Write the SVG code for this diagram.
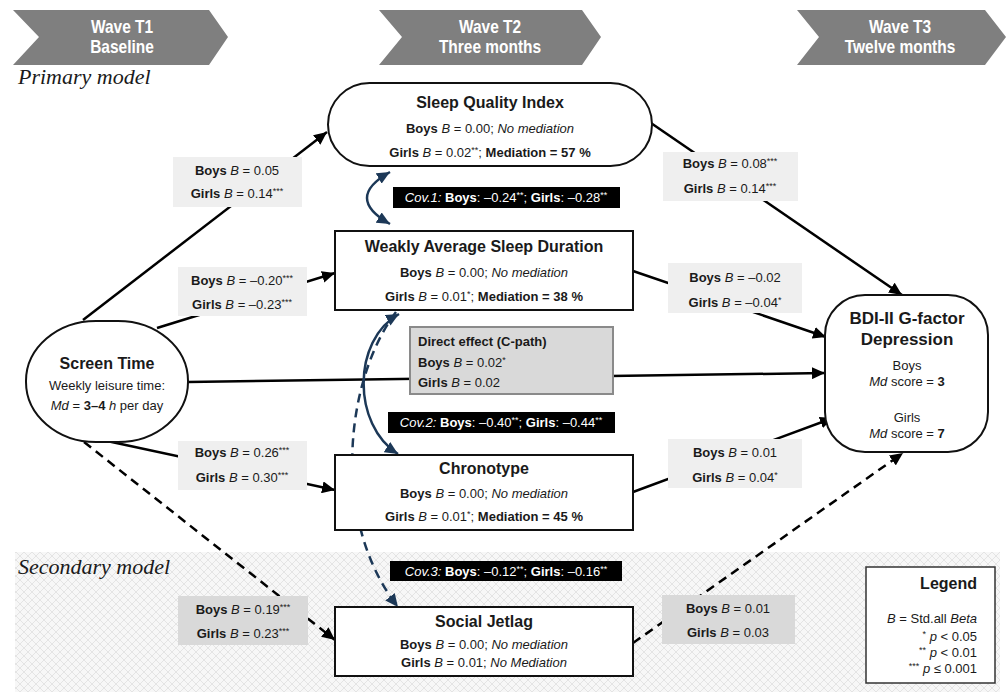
<svg xmlns="http://www.w3.org/2000/svg" width="1008" height="694" viewBox="0 0 1008 694">
<defs>
<style>
.t{font-family:"Liberation Sans",Arial,sans-serif;fill:#1a1a1a}
.l{font-size:13px;text-anchor:middle}
.ttl{font-size:16px;font-weight:bold;text-anchor:middle}
.b{font-weight:bold}
.i{font-style:italic}
.s{font-size:9px}
.wave{font-family:"Liberation Sans Narrow","Liberation Sans",Arial,sans-serif;font-size:18px;font-weight:bold;fill:#fff;text-anchor:middle}
.model{font-family:"Liberation Serif","Times New Roman",serif;font-style:italic;font-size:22px;fill:#1a1a1a}
.chev{fill:#7f7f7f}
.lab{fill:#efefef}
.lab2{fill:#d9d9d9}
.node{fill:#fff;stroke:#111;stroke-width:2}
.con{fill:none;stroke:#000;stroke-width:2.5}
.dash{stroke-dasharray:9 6}
.cov{fill:none;stroke:#1c3857;stroke-width:2.5}
.covl{fill:#000}
.cw{font-family:"Liberation Sans",Arial,sans-serif;font-size:13px;fill:#fff;text-anchor:middle}
</style>
<marker id="ah" markerUnits="userSpaceOnUse" markerWidth="14" markerHeight="12" refX="13" refY="6" orient="auto"><path d="M0,0 L13,6 L0,12 z" fill="#000"/></marker>
<marker id="an" markerUnits="userSpaceOnUse" markerWidth="14" markerHeight="12" refX="13" refY="6" orient="auto-start-reverse"><path d="M0,0 L13,6 L0,12 z" fill="#1c3857"/></marker>
<pattern id="hatch" patternUnits="userSpaceOnUse" width="8" height="8"><rect width="8" height="8" fill="#f7f7f7"/><path d="M0,0 L8,8 M8,0 L0,8" stroke="#e0e0e0" stroke-width="0.8"/></pattern>
</defs>
<rect width="1008" height="694" fill="#fff"/>
<rect x="15" y="552" width="985" height="140" fill="url(#hatch)"/>

<g id="waves">
<polygon class="chev" points="13,10 209,10 228,37 209,65 13,65 39,37"/>
<text class="wave" transform="translate(122 33) scale(0.86 1)">Wave T1</text>
<text class="wave" transform="translate(122 53) scale(0.86 1)">Baseline</text>
<polygon class="chev" points="379,10 582,10 601,37 582,65 379,65 402,37"/>
<text class="wave" transform="translate(490 33) scale(0.86 1)">Wave T2</text>
<text class="wave" transform="translate(490 53) scale(0.86 1)">Three months</text>
<polygon class="chev" points="797,10 985,10 1006,37 985,65 797,65 819,37"/>
<text class="wave" transform="translate(900 33) scale(0.86 1)">Wave T3</text>
<text class="wave" transform="translate(900 53) scale(0.86 1)">Twelve months</text>
</g>
<text class="model" x="18" y="84">Primary model</text>
<text class="model" x="18" y="574">Secondary model</text>

<g id="connectors">
<path class="con" d="M83,320 L327,132" marker-end="url(#ah)"/>
<path class="con" d="M157,328 L335,273" marker-end="url(#ah)"/>
<path class="con" d="M107,441 L335,490" marker-end="url(#ah)"/>
<path class="con dash" d="M84,442 L335,640" marker-end="url(#ah)"/>
<path class="con" d="M188,382 L825,373" marker-end="url(#ah)"/>
<path class="con" d="M648,121 L902,295" marker-end="url(#ah)"/>
<path class="con" d="M633,271 L826,337" marker-end="url(#ah)"/>
<path class="con" d="M633,492 L833,418" marker-end="url(#ah)"/>
<path class="con dash" d="M633,643 L903,453" marker-end="url(#ah)"/>
<path class="cov" d="M390,172 Q344,198 390,224" marker-start="url(#an)" marker-end="url(#an)"/>
<path class="cov" d="M399,314 C352,340 352,425 398,454" marker-start="url(#an)" marker-end="url(#an)"/>
<path class="cov dash" d="M396,312 C345,380 330,520 398,607" marker-end="url(#an)"/>
</g>

<g id="labels">
<rect class="lab" x="173" y="157" width="129" height="50"/>
<text class="t l" x="237" y="175"><tspan class="b">Boys</tspan> <tspan class="i">B</tspan> = 0.05</text>
<text class="t l" x="237" y="198"><tspan class="b">Girls</tspan> <tspan class="i">B</tspan> = 0.14<tspan class="s" dy="-4">***</tspan></text>

<rect class="lab" x="178" y="267" width="129" height="49"/>
<text class="t l" x="242" y="285"><tspan class="b">Boys</tspan> <tspan class="i">B</tspan> = –0.20<tspan class="s" dy="-4">***</tspan></text>
<text class="t l" x="242" y="309"><tspan class="b">Girls</tspan> <tspan class="i">B</tspan> = –0.23<tspan class="s" dy="-4">***</tspan></text>

<rect class="lab" x="178" y="441" width="129" height="49"/>
<text class="t l" x="242" y="457"><tspan class="b">Boys</tspan> <tspan class="i">B</tspan> = 0.26<tspan class="s" dy="-4">***</tspan></text>
<text class="t l" x="242" y="482"><tspan class="b">Girls</tspan> <tspan class="i">B</tspan> = 0.30<tspan class="s" dy="-4">***</tspan></text>

<rect class="lab2" x="178" y="596" width="130" height="49"/>
<text class="t l" x="243" y="614"><tspan class="b">Boys</tspan> <tspan class="i">B</tspan> = 0.19<tspan class="s" dy="-4">***</tspan></text>
<text class="t l" x="243" y="638"><tspan class="b">Girls</tspan> <tspan class="i">B</tspan> = 0.23<tspan class="s" dy="-4">***</tspan></text>

<rect class="lab" x="663" y="152" width="135" height="49"/>
<text class="t l" x="730" y="168"><tspan class="b">Boys</tspan> <tspan class="i">B</tspan> = 0.08<tspan class="s" dy="-4">***</tspan></text>
<text class="t l" x="730" y="193"><tspan class="b">Girls</tspan> <tspan class="i">B</tspan> = 0.14<tspan class="s" dy="-4">***</tspan></text>

<rect class="lab" x="668" y="263" width="134" height="50"/>
<text class="t l" x="735" y="282"><tspan class="b">Boys</tspan> <tspan class="i">B</tspan> = –0.02</text>
<text class="t l" x="735" y="307"><tspan class="b">Girls</tspan> <tspan class="i">B</tspan> = –0.04<tspan class="s" dy="-4">*</tspan></text>

<rect class="lab" x="668" y="439" width="134" height="49"/>
<text class="t l" x="735" y="457"><tspan class="b">Boys</tspan> <tspan class="i">B</tspan> = 0.01</text>
<text class="t l" x="735" y="482"><tspan class="b">Girls</tspan> <tspan class="i">B</tspan> = 0.04<tspan class="s" dy="-4">*</tspan></text>

<rect class="lab2" x="662" y="595" width="133" height="49"/>
<text class="t l" x="728" y="613"><tspan class="b">Boys</tspan> <tspan class="i">B</tspan> = 0.01</text>
<text class="t l" x="728" y="637"><tspan class="b">Girls</tspan> <tspan class="i">B</tspan> = 0.03</text>

<rect class="covl" x="393" y="187" width="227" height="21"/>
<text class="cw" x="506" y="202"><tspan class="i">Cov.1:</tspan> <tspan class="b">Boys</tspan>: –0.24<tspan class="s" dy="-4">**</tspan><tspan dy="4">; </tspan><tspan class="b">Girls</tspan>: –0.28<tspan class="s" dy="-4">**</tspan></text>
<rect class="covl" x="388" y="412" width="227" height="21"/>
<text class="cw" x="501" y="427"><tspan class="i">Cov.2:</tspan> <tspan class="b">Boys</tspan>: –0.40<tspan class="s" dy="-4">**</tspan><tspan dy="4">; </tspan><tspan class="b">Girls</tspan>: –0.44<tspan class="s" dy="-4">**</tspan></text>
<rect class="covl" x="390" y="561" width="232" height="20"/>
<text class="cw" x="506" y="576"><tspan class="i">Cov.3:</tspan> <tspan class="b">Boys</tspan>: –0.12<tspan class="s" dy="-4">**</tspan><tspan dy="4">; </tspan><tspan class="b">Girls</tspan>: –0.16<tspan class="s" dy="-4">**</tspan></text>
</g>

<g id="direct-effect">
<rect x="410" y="327" width="203" height="67" fill="#d9d9d9" stroke="#8a8a8a" stroke-width="2"/>
<text class="t" x="418" y="346" font-size="13" font-weight="bold">Direct effect (C-path)</text>
<text class="t" x="418" y="367" font-size="13"><tspan class="b">Boys</tspan> <tspan class="i">B</tspan> = 0.02<tspan class="s" dy="-4">*</tspan></text>
<text class="t" x="418" y="387" font-size="13"><tspan class="b">Girls</tspan> <tspan class="i">B</tspan> = 0.02</text>
</g>

<g id="screen-time">
<rect class="node" x="26" y="321" width="162" height="121" rx="70" ry="60"/>
<text class="t ttl" x="107" y="369">Screen Time</text>
<text class="t l" x="107" y="390">Weekly leisure time:</text>
<text class="t l" x="107" y="410"><tspan class="i">Md</tspan> = <tspan class="b">3–4</tspan> <tspan class="i">h</tspan> per day</text>
</g>

<g id="sleep-quality">
<rect class="node" x="328" y="83" width="324" height="83" rx="41.5" ry="41.5"/>
<text class="t ttl" x="490" y="108">Sleep Quality Index</text>
<text class="t l" x="490" y="133"><tspan class="b">Boys</tspan> <tspan class="i">B</tspan> = 0.00; <tspan class="i">No mediation</tspan></text>
<text class="t l" x="490" y="157"><tspan class="b">Girls</tspan> <tspan class="i">B</tspan> = 0.02<tspan class="s" dy="-4">**</tspan><tspan dy="4">; </tspan><tspan class="b">Mediation = 57 %</tspan></text>
</g>

<g id="sleep-duration">
<rect class="node" x="335" y="231" width="298" height="79"/>
<text class="t ttl" x="484" y="252">Weakly Average Sleep Duration</text>
<text class="t l" x="484" y="277"><tspan class="b">Boys</tspan> <tspan class="i">B</tspan> = 0.00; <tspan class="i">No mediation</tspan></text>
<text class="t l" x="484" y="301"><tspan class="b">Girls</tspan> <tspan class="i">B</tspan> = 0.01<tspan class="s" dy="-4">*</tspan><tspan dy="4">; </tspan><tspan class="b">Mediation = 38 %</tspan></text>
</g>

<g id="chronotype">
<rect class="node" x="335" y="455" width="298" height="75"/>
<text class="t ttl" x="484" y="474">Chronotype</text>
<text class="t l" x="484" y="498"><tspan class="b">Boys</tspan> <tspan class="i">B</tspan> = 0.00; <tspan class="i">No mediation</tspan></text>
<text class="t l" x="484" y="521"><tspan class="b">Girls</tspan> <tspan class="i">B</tspan> = 0.01<tspan class="s" dy="-4">*</tspan><tspan dy="4">; </tspan><tspan class="b">Mediation = 45 %</tspan></text>
</g>

<g id="social-jetlag">
<rect class="node" x="335" y="607" width="298" height="69"/>
<text class="t ttl" x="484" y="627">Social Jetlag</text>
<text class="t l" x="484" y="649"><tspan class="b">Boys</tspan> <tspan class="i">B</tspan> = 0.00; <tspan class="i">No mediation</tspan></text>
<text class="t l" x="484" y="667"><tspan class="b">Girls</tspan> <tspan class="i">B</tspan> = 0.01; <tspan class="i">No Mediation</tspan></text>
</g>

<g id="bdi">
<rect class="node" x="825" y="295" width="163" height="157" rx="40" ry="40"/>
<text class="t" x="907" y="324" font-size="17" font-weight="bold" text-anchor="middle">BDI-II G-factor</text>
<text class="t" x="907" y="345" font-size="17" font-weight="bold" text-anchor="middle">Depression</text>
<text class="t l" x="907" y="370">Boys</text>
<text class="t l" x="907" y="386"><tspan class="i">Md</tspan> score = <tspan class="b">3</tspan></text>
<text class="t l" x="907" y="422">Girls</text>
<text class="t l" x="907" y="438"><tspan class="i">Md</tspan> score = <tspan class="b">7</tspan></text>
</g>

<g id="legend">
<rect x="866" y="567" width="129" height="116" fill="#fff" stroke="#333" stroke-width="1.5"/>
<text class="t" x="977" y="589" font-size="16" font-weight="bold" text-anchor="end">Legend</text>
<text class="t" x="977" y="623" font-size="13" text-anchor="end"><tspan class="i">B</tspan> = Std.all <tspan class="i">Beta</tspan></text>
<text class="t" x="977" y="641" font-size="13" text-anchor="end"><tspan class="s" dy="-4">*</tspan><tspan dy="4"> </tspan><tspan class="i">p</tspan> &lt; 0.05</text>
<text class="t" x="977" y="657" font-size="13" text-anchor="end"><tspan class="s" dy="-4">**</tspan><tspan dy="4"> </tspan><tspan class="i">p</tspan> &lt; 0.01</text>
<text class="t" x="977" y="673" font-size="13" text-anchor="end"><tspan class="s" dy="-4">***</tspan><tspan dy="4"> </tspan><tspan class="i">p</tspan> ≤ 0.001</text>
</g>
</svg>
